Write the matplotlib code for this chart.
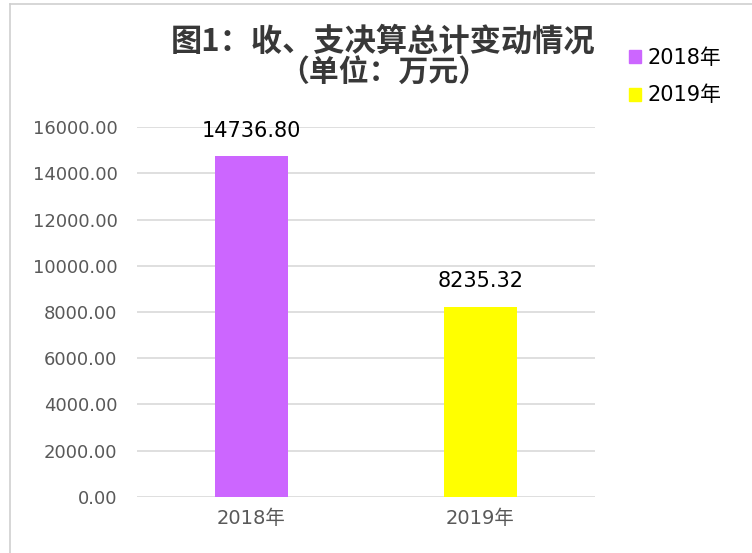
import matplotlib.pyplot as plt
from matplotlib.lines import Line2D
from matplotlib.patches import Patch

plt.rcParams['font.family'] = ['DejaVu Sans', 'Noto Sans CJK SC']

# === data ===
years = ['2018年', '2019年']
totals = [14736.80, 8235.32]
bar_colors = ['#cc66ff', '#ffff00']
y_ticks = [0, 2000, 4000, 6000, 8000, 10000, 12000, 14000, 16000]

fig = plt.figure(figsize=(7.52, 5.53), dpi=100)
ax = fig.add_axes([0.182, 0.1013, 0.609, 0.669])

x = range(len(years))
bars = ax.bar(x, totals, width=0.32, color=bar_colors, zorder=3)

ax.set_xlim(-0.5, 1.5)
ax.set_ylim(0, 16000)
ax.set_yticks(y_ticks)
ax.set_yticklabels(['%.2f' % v for v in y_ticks], fontsize=13, color='#595959')
ax.set_xticks(list(x))
ax.set_xticklabels(years, fontsize=14, color='#595959',
                   family=['DejaVu Sans', 'Noto Sans CJK SC'])
ax.tick_params(axis='both', length=0)
ax.tick_params(axis='y', pad=14)
ax.tick_params(axis='x', pad=9)

ax.grid(axis='y', color='#d9d9d9', linewidth=1.2, zorder=0)
for s in ax.spines.values():
    s.set_visible(False)

# value labels above the bars
for b, v in zip(bars, totals):
    ax.annotate('%.2f' % v, (b.get_x() + b.get_width() / 2, v),
                xytext=(0, 11), textcoords='offset points',
                ha='center', va='bottom', fontsize=15, color='#000000')

# title, two lines
fig.text(0.509, 0.924, '图1：收、支决算总计变动情况',
         ha='center', va='center', fontsize=22.5, fontweight='bold',
         color='#383838', family=['Noto Sans CJK SC'])
fig.text(0.511, 0.868, '（单位：万元）',
         ha='center', va='center', fontsize=21.5, fontweight='bold',
         color='#383838', family=['Noto Sans CJK SC'])

# legend
handles = [Patch(color=c) for c in bar_colors]
fig.legend(handles, years, loc='upper left', bbox_to_anchor=(0.817, 0.94),
           frameon=False, handlelength=0.6, handleheight=0.6,
           handletextpad=0.3, labelspacing=0.85, borderpad=0.2,
           prop={'family': ['DejaVu Sans', 'Noto Sans CJK SC'], 'size': 15})

# thin frame lines at the top and left edge of the picture
fig.add_artist(Line2D([0.013, 0.013], [0, 0.993], color='#cfcfcf', linewidth=1.2))
fig.add_artist(Line2D([0.013, 1], [0.993, 0.993], color='#cfcfcf', linewidth=1.2))

fig.savefig('out.png', dpi=100)
